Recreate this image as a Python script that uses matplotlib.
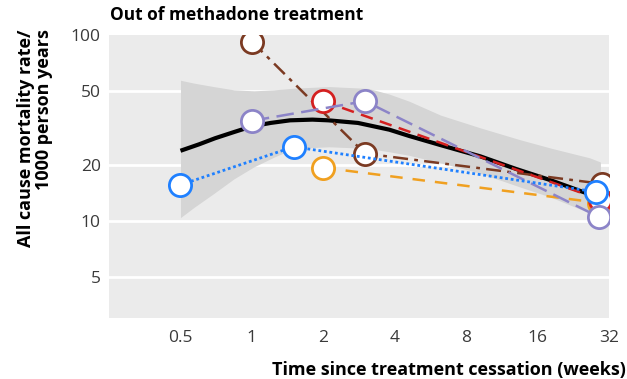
import matplotlib
matplotlib.use("Agg")
import matplotlib.pyplot as plt
from matplotlib.ticker import FixedLocator, NullLocator

plt.rcParams['font.family'] = ['Open Sans', 'DejaVu Sans']

# fitted curve and confidence band
fit_x = [0.5, 0.6, 0.7, 0.84, 1, 1.2, 1.45, 1.8, 2.1, 2.8, 3.8, 4.6, 6.2, 9.2, 13, 18, 24.5, 29.5]
fit_y = [23.8, 25.8, 27.8, 30, 32.2, 33.6, 34.7, 35, 34.7, 33.6, 30.9, 28.6, 25.6, 22.2, 19, 16.6, 14.4, 13.3]
band_x = [0.5, 0.57, 0.69, 0.84, 1.02, 1.24, 1.51, 2.12, 3.1, 3.8, 4.6, 6.25, 9.2, 13.5, 18.2, 26.6, 29.5]
band_hi = [57, 55, 52.7, 50.6, 50, 50.6, 51.7, 52.7, 51.5, 48, 44, 37, 31.6, 27.3, 24.6, 21.8, 20.7]
band_lo = [10.4, 11.8, 14, 16.8, 19.5, 22, 24.5, 25, 24.5, 23.5, 22.5, 20.5, 18, 15.2, 13.4, 11, 10]

# individual series
brown_x, brown_y = [1, 3, 30], [92, 23, 15.8]
orange_x, orange_y = [2, 29], [19.3, 12.5]
red_x, red_y = [2, 29.5], [44, 13]
purple_x, purple_y = [1, 3, 29], [34.5, 44, 10.5]
blue_x, blue_y = [0.5, 1.5, 28.3], [15.6, 25, 14.3]

x_ticks = [0.5, 1, 2, 4, 8, 16, 32]
x_labels = ["0.5", "1", "2", "4", "8", "16", "32"]
y_ticks = [5, 10, 20, 50, 100]
y_labels = ["5", "10", "20", "50", "100"]

fig = plt.figure(figsize=(6.27, 3.79), dpi=100)
ax = fig.add_axes([0.174, 0.161, 0.797, 0.747])
ax.set_facecolor("#ebebeb")
ax.set_xscale("log")
ax.set_yscale("log")
ax.set_xlim(0.25, 32)
ax.set_ylim(3, 100)

for v in [5, 10, 20, 50]:
    ax.axhline(v, color="white", lw=2, zorder=1)

ax.fill_between(band_x, band_lo, band_hi, color="#d5d5d5", lw=0, zorder=2)
ax.plot(fit_x, fit_y, color="black", lw=3, zorder=3, solid_capstyle="butt")

mk = dict(marker="o", ms=16, mfc="white", mew=2)
ax.plot(brown_x, brown_y, color="#7b3a22", lw=1.8, ls=(0, (6, 2.5, 1.5, 2.5)), mec="#7b3a22", zorder=4, **mk)
ax.plot(orange_x, orange_y, color="#f0a020", lw=1.8, ls=(0, (5, 4)), mec="#f0a020", zorder=4, **mk)
ax.plot(red_x, red_y, color="#d42020", lw=1.8, ls=(0, (5, 3)), mec="#d42020", zorder=5, **mk)
ax.plot(purple_x, purple_y, color="#8c84c8", lw=1.8, ls=(0, (7, 3)), mec="#8c84c8", zorder=5, **mk)
ax.plot(blue_x, blue_y, color="#1f80ff", lw=2, ls=(0, (1, 1)), mec="#1f80ff", zorder=6, **mk)

ax.xaxis.set_major_locator(FixedLocator(x_ticks))
ax.xaxis.set_minor_locator(NullLocator())
ax.set_xticklabels(x_labels)
ax.yaxis.set_major_locator(FixedLocator(y_ticks))
ax.yaxis.set_minor_locator(NullLocator())
ax.set_yticklabels(y_labels)
ax.tick_params(axis="x", length=3, color="white", labelsize=12.5, labelcolor="#3a3a3a", pad=6)
ax.tick_params(axis="y", length=0, labelsize=12.5, labelcolor="#3a3a3a", pad=6)
for s in ax.spines.values():
    s.set_visible(False)

fig.text(0.176, 0.96, "Out of methadone treatment", fontsize=12.5, fontweight="bold", ha="left", va="center")
fig.text(0.056, 0.636, "All cause mortality rate/\n1000 person years", fontsize=13, fontweight="bold",
         rotation=90, ha="center", va="center", multialignment="right", linespacing=1.05)
fig.text(0.998, 0.024, "Time since treatment cessation (weeks)", fontsize=13, fontweight="bold",
         ha="right", va="center")

fig.savefig("out.png", dpi=100)
